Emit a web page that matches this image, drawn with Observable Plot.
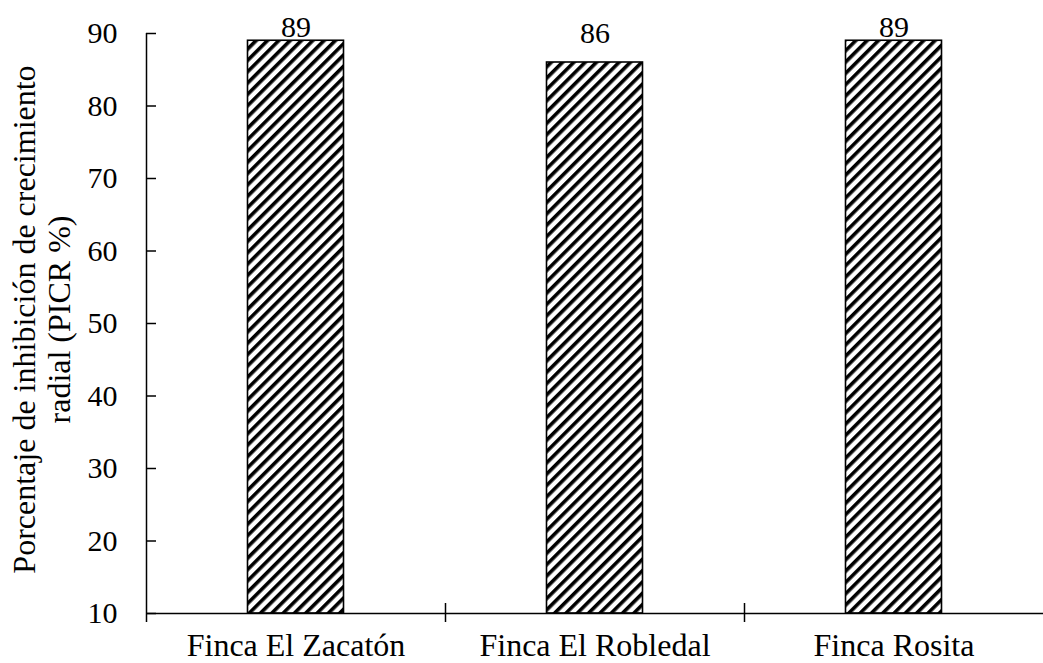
<!DOCTYPE html>
<html><head><meta charset="utf-8">
<script src="https://cdn.jsdelivr.net/npm/d3@7"></script>
<script src="https://cdn.jsdelivr.net/npm/@observablehq/plot@0.6"></script>
<style>body{margin:0;background:#fff}</style>
</head><body><div id="chart"></div>
<script>
const categories = ["Finca El Zacatón", "Finca El Robledal", "Finca Rosita"];
const values = [89, 86, 89];
const yTicks = [10, 20, 30, 40, 50, 60, 70, 80, 90];
const yLabel = "Porcentaje de inhibición de crecimiento\nradial (PICR %)";

const data = categories.map((c, i) => ({category: c, value: values[i]}));

const width = 1043, height = 663;
const marginLeft = 146, marginRight = 0, marginTop = 33, marginBottom = 50;
const step = (width - marginLeft - marginRight) / categories.length;
const barWidth = 96;
const inset = (step - barWidth) / 2;
const font = "'Liberation Serif', 'Times New Roman', serif";
// data labels sit a little above each bar but stay inside the plot area (as in the source)
const labelPad = 2.75, labelCeil = 89.45;

const chart = Plot.plot({
  width, height, marginLeft, marginRight, marginTop, marginBottom,
  style: {fontFamily: font, fontSize: "30px", color: "#000", background: "#fff", overflow: "visible"},
  x: {domain: categories, padding: 0},
  y: {domain: [10, 90]},
  marks: [
    Plot.barY(data, {x: "category", y1: 10, y2: "value", fill: "url(#hatch)", stroke: "#000", strokeWidth: 1.6, insetLeft: inset, insetRight: inset}),
    Plot.ruleY([10], {stroke: "#000", strokeWidth: 1.5}),
    Plot.ruleX([categories[0]], {dx: -step / 2, y1: 90, y2: 10, insetBottom: -9, stroke: "#000", strokeWidth: 1.5}),
    Plot.ruleX(categories.slice(1), {x: d => d, dx: -step / 2, y1: 10, y2: 10, insetTop: -10, insetBottom: -9, stroke: "#000", strokeWidth: 1.5}),
    Plot.tickY(yTicks, {y: d => d, x: () => categories[0], insetRight: step - 10, stroke: "#000", strokeWidth: 1.5}),
    Plot.axisY({ticks: yTicks, tickSize: 0, tickPadding: 29, label: null, fontSize: 30}),
    Plot.axisX({tickSize: 0, tickPadding: 20, label: null, fontSize: 32}),
    Plot.text(data, {x: "category", y: d => Math.min(d.value + labelPad, labelCeil), text: d => String(d.value), lineAnchor: "bottom", fontSize: 30}),
    Plot.text([yLabel], {frameAnchor: "left", dx: -105, dy: -4, rotate: -90, text: d => d, textAnchor: "middle", lineAnchor: "middle", lineHeight: 1.07, fontSize: 32})
  ]
});

const defs = d3.create("svg:defs");
const pat = defs.append("pattern")
  .attr("id", "hatch")
  .attr("patternUnits", "userSpaceOnUse")
  .attr("width", 8)
  .attr("height", 8)
  .attr("patternTransform", "rotate(45)");
pat.append("rect").attr("width", 8).attr("height", 8).attr("fill", "#fff");
pat.append("rect").attr("x", 0).attr("y", 0).attr("width", 3.6).attr("height", 8).attr("fill", "#000");
chart.insertBefore(defs.node(), chart.firstChild);

document.getElementById("chart").appendChild(chart);
</script>
</body></html>
